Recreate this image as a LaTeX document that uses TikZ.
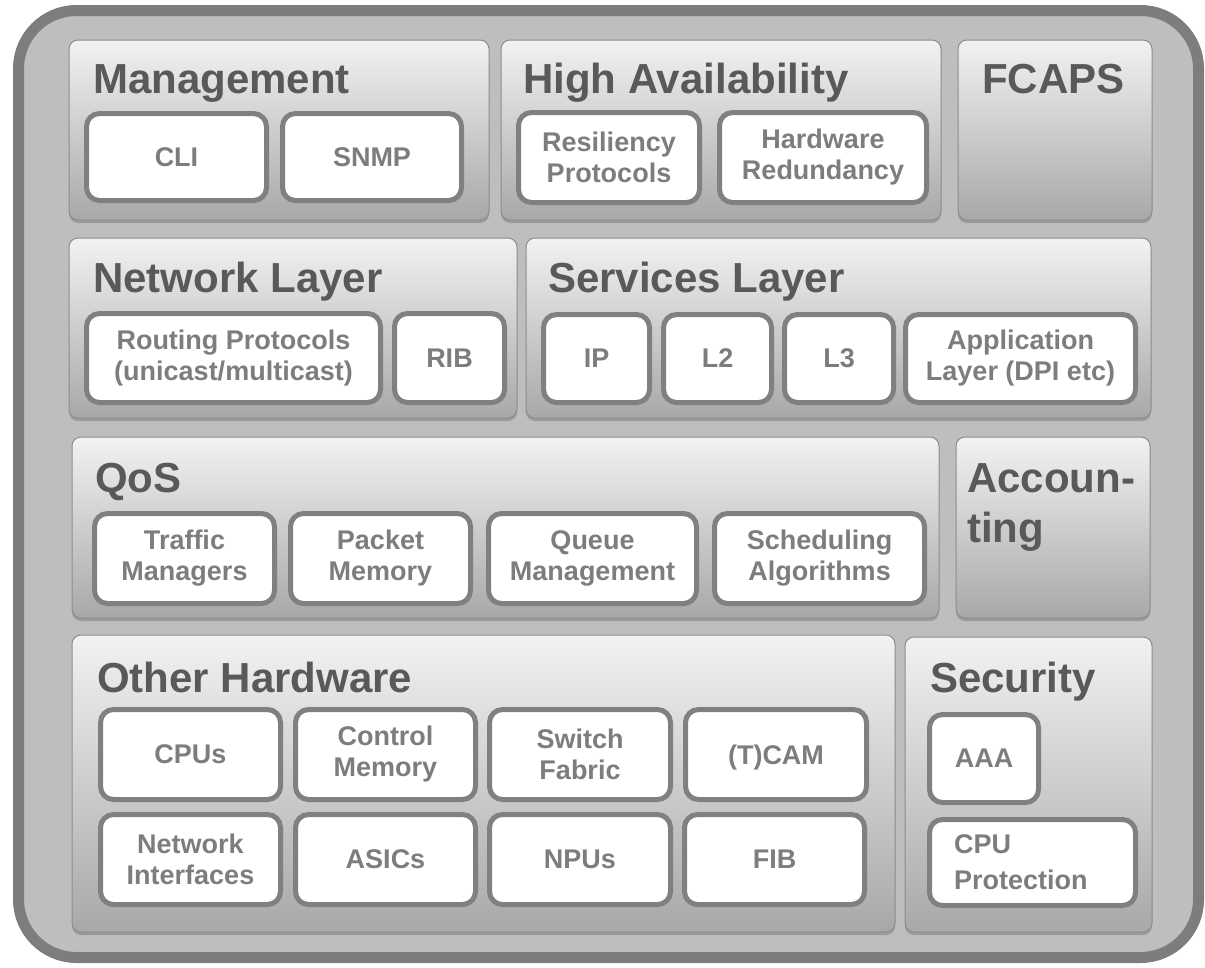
\documentclass[tikz,border=0pt]{standalone}
\usepackage{fontspec}
\setmainfont{Liberation Sans}
\usetikzlibrary{shadows}
\definecolor{outerfill}{RGB}{190,190,190}
\definecolor{outerdraw}{RGB}{125,125,125}
\definecolor{ptop}{RGB}{242,242,242}
\definecolor{pbot}{RGB}{168,168,168}
\definecolor{pborder}{RGB}{140,140,140}
\definecolor{iborder}{RGB}{128,128,128}
\definecolor{titlec}{RGB}{89,89,89}
\definecolor{itextc}{RGB}{125,125,125}
\tikzset{
  panel/.style={rectangle, rounded corners=9pt, draw=pborder, line width=1pt,
    top color=ptop, bottom color=pbot, inner sep=0pt,
    drop shadow={shadow xshift=0pt, shadow yshift=-3pt, opacity=0.3, fill=black!70}},
  ibox/.style={rectangle, rounded corners=13pt, draw=iborder, line width=5pt,
    fill=white, inner sep=0pt, align=center, text=itextc,
    font=\fontsize{27}{31}\selectfont\bfseries,
    drop shadow={shadow xshift=0pt, shadow yshift=-2pt, opacity=0.2, fill=black}},
  ttl/.style={anchor=base west, inner sep=0pt, text=titlec,
    font=\fontsize{42}{50}\selectfont\bfseries, align=left},
}
% panel: name, x1, y1, x2, y2
\newcommand\mypanel[5]{%
  \node[panel, minimum width={(#4-#2)*1pt}, minimum height={(#5-#3)*1pt}]
    (#1) at ({(#2+#4)/2},{(#3+#5)/2}) {};}
% inner box: name, x1, y1, x2, y2, text
\newcommand\myibox[6]{%
  \node[ibox, minimum width={(#4-#2-5)*1pt}, minimum height={(#5-#3-5)*1pt}]
    (#1) at ({(#2+#4)/2},{(#3+#5)/2}) {#6};}
\begin{document}
\begin{tikzpicture}[x=1pt,y=-1pt]
\useasboundingbox (0,0) rectangle (1205,967);
% outer frame
\node[rectangle, rounded corners=58pt, draw=outerdraw, fill=outerfill, line width=11pt,
  minimum width=1180pt, minimum height=947pt, inner sep=0pt] (frame) at (608.5,484) {};

% top row
\mypanel{mgmt}{69}{40}{489}{220}
\node[ttl] (mgmtT) at (93,93) {Management};
\myibox{cli}{84}{111}{269}{203}{CLI}
\myibox{snmp}{280}{111}{464}{203}{SNMP}

\mypanel{ha}{501}{40}{941}{220}
\node[ttl] (haT) at (523,93) {High Availability};
\myibox{resil}{516}{110}{702}{205}{Resiliency\\Protocols}
\myibox{hwred}{717}{110}{929}{205}{Hardware\\Redundancy}

\mypanel{fcaps}{958}{40}{1152}{220}
\node[ttl] (fcapsT) at (982,93) {FCAPS};

% second row
\mypanel{net}{69}{238}{517}{418}
\node[ttl] (netT) at (93,292) {Network Layer};
\myibox{routing}{84}{311}{383}{405}{Routing Protocols\\(unicast/multicast)}
\myibox{rib}{392}{311}{507}{405}{RIB}

\mypanel{serv}{526}{238}{1151}{418}
\node[ttl] (servT) at (548,292) {Services Layer};
\myibox{ip}{541}{312}{652}{405}{IP}
\myibox{ltwo}{661}{312}{774}{405}{L2}
\myibox{lthree}{782}{312}{896}{405}{L3}
\myibox{app}{903}{312}{1138}{405}{Application\\Layer (DPI etc)}

% third row
\mypanel{qos}{72}{437}{939}{618}
\node[ttl] (qosT) at (95,492) {QoS};
\myibox{traffic}{92}{511}{277}{606}{Traffic\\Managers}
\myibox{packet}{288}{511}{473}{606}{Packet\\Memory}
\myibox{queue}{486}{511}{699}{606}{Queue\\Management}
\myibox{sched}{712}{511}{927}{606}{Scheduling\\Algorithms}

\mypanel{acct}{956}{437}{1150}{618}
\node[ttl] (acctT) at (967,542) {Accoun-\\ting};

% bottom row
\mypanel{other}{72}{635}{895}{932}
\node[ttl] (otherT) at (97,692) {Other Hardware};
\myibox{cpus}{98}{707}{283}{802}{CPUs}
\myibox{ctrl}{293}{707}{478}{802}{Control\\Memory}
\myibox{switch}{487}{707}{673}{802}{Switch\\Fabric}
\myibox{tcam}{683}{707}{869}{802}{\raisebox{0pt}[\height][0pt]{(T)CAM}}
\myibox{netif}{98}{812}{283}{907}{Network\\Interfaces}
\myibox{asics}{293}{812}{478}{907}{ASICs}
\myibox{npus}{487}{812}{673}{907}{NPUs}
\myibox{fib}{682}{812}{867}{907}{FIB}

\mypanel{sec}{905}{637}{1152}{932}
\node[ttl] (secT) at (930,692) {Security};
\myibox{aaa}{927}{712}{1041}{805}{AAA}
\myibox{cpuprot}{927}{817}{1138}{908}{}
\node[anchor=west, inner sep=0pt, align=left, text=itextc,
  font=\fontsize{27}{36}\selectfont\bfseries] (cpuprotT) at (954,862.5) {CPU\\Protection};
\end{tikzpicture}
\end{document}
